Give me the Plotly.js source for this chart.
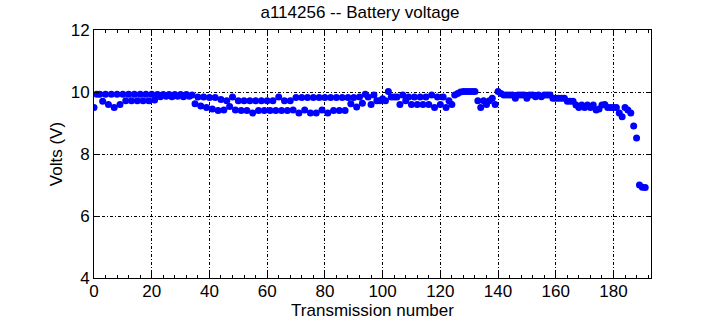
<!DOCTYPE html>
<html>
<head>
<meta charset="utf-8">
<script src="https://cdn.plot.ly/plotly-3.0.1.min.js"></script>
<style>html,body{margin:0;padding:0;background:#fff;}#chart{width:720px;height:320px;}</style>
</head>
<body>
<div id="chart"></div>
<script>
// Battery voltage per transmission (index 0..191)
const voltage = [
  9.50, 9.93, 9.93, 9.70, 9.93, 9.60, 9.93, 9.50, 9.93, 9.60,
  9.93, 9.72, 9.93, 9.72, 9.93, 9.72, 9.93, 9.72, 9.93, 9.72,
  9.93, 9.74, 9.92, 9.85, 9.92, 9.86, 9.92, 9.85, 9.92, 9.86,
  9.92, 9.85, 9.92, 9.86, 9.90, 9.62, 9.84, 9.55, 9.84, 9.50,
  9.82, 9.45, 9.82, 9.40, 9.76, 9.42, 9.72, 9.53, 9.84, 9.42,
  9.72, 9.40, 9.72, 9.40, 9.72, 9.32, 9.72, 9.40, 9.72, 9.40,
  9.72, 9.40, 9.72, 9.40, 9.84, 9.40, 9.72, 9.40, 9.72, 9.42,
  9.82, 9.32, 9.82, 9.42, 9.82, 9.32, 9.82, 9.32, 9.82, 9.42,
  9.82, 9.32, 9.82, 9.40, 9.82, 9.40, 9.82, 9.40, 9.82, 9.62,
  9.82, 9.52, 9.84, 9.64, 9.93, 9.84, 9.60, 9.90, 9.72, 9.72,
  9.78, 9.72, 10.02, 9.84, 9.84, 9.84, 9.60, 9.90, 9.72, 9.84,
  9.60, 9.84, 9.60, 9.84, 9.60, 9.84, 9.60, 9.90, 9.50, 9.84,
  9.60, 9.84, 9.50, 9.72, 9.60, 9.90, 9.95, 10.00, 10.02, 10.02,
  10.02, 10.02, 10.02, 9.72, 9.50, 9.72, 9.60, 9.72, 9.80, 9.60,
  10.02, 9.95, 9.90, 9.90, 9.90, 9.90, 9.80, 9.90, 9.90, 9.90,
  9.80, 9.90, 9.90, 9.85, 9.90, 9.85, 9.90, 9.90, 9.90, 9.80,
  9.80, 9.80, 9.80, 9.80, 9.70, 9.70, 9.70, 9.58, 9.50, 9.58,
  9.50, 9.58, 9.50, 9.58, 9.42, 9.45, 9.58, 9.60, 9.50, 9.50,
  9.50, 9.50, 9.32, 9.20, 9.50, 9.42, 9.32, 8.90, 8.52, 7.00,
  6.93, 6.92
];
const transmission = voltage.map((_, i) => i);
const xTicks = [0, 20, 40, 60, 80, 100, 120, 140, 160, 180];
const yTicks = [4, 6, 8, 10, 12];

const fontFam = '"Liberation Sans Narrow", "Liberation Sans", Arial, sans-serif';
const gridDash = '3px,2px,1px,2px';

const trace = {
  x: transmission,
  y: voltage,
  type: 'scatter',
  mode: 'markers',
  marker: {color: '#0000ff', size: 7, line: {width: 0}},
  cliponaxis: true,
  hoverinfo: 'skip'
};

const axisCommon = {
  showline: true, linecolor: '#000', linewidth: 1, mirror: 'ticks',
  ticks: 'inside', ticklen: 5, tickcolor: '#000', tickwidth: 1,
  showgrid: true, gridcolor: '#000', gridwidth: 1, griddash: gridDash,
  zeroline: false,
  tickfont: {family: fontFam, size: 17, color: '#000'}
};

const layout = {
  width: 720, height: 320,
  margin: {l: 94, r: 69, t: 30, b: 42},
  paper_bgcolor: '#fff', plot_bgcolor: '#fff',
  showlegend: false,
  title: {text: 'a114256 -- Battery voltage', x: 0.5, xanchor: 'center', y: 0.962, yanchor: 'middle',
          font: {family: fontFam, size: 17, color: '#000'}},
  xaxis: Object.assign({}, axisCommon, {
    range: [0, 193], tickvals: xTicks, ticktext: xTicks.map(String),
    ticklabelstandoff: -2,
    title: {text: 'Transmission number', standoff: 0, font: {family: fontFam, size: 17, color: '#000'}},
    minor: {dtick: 4, ticks: 'inside', ticklen: 3, tickcolor: '#000', showgrid: false}
  }),
  yaxis: Object.assign({}, axisCommon, {
    range: [4, 12], tickvals: yTicks, ticktext: yTicks.map(String),
    title: {text: 'Volts (V)', standoff: 3, font: {family: fontFam, size: 17, color: '#000'}}
  })
};

Plotly.newPlot('chart', [trace], layout, {staticPlot: true, displayModeBar: false});
</script>
</body>
</html>
